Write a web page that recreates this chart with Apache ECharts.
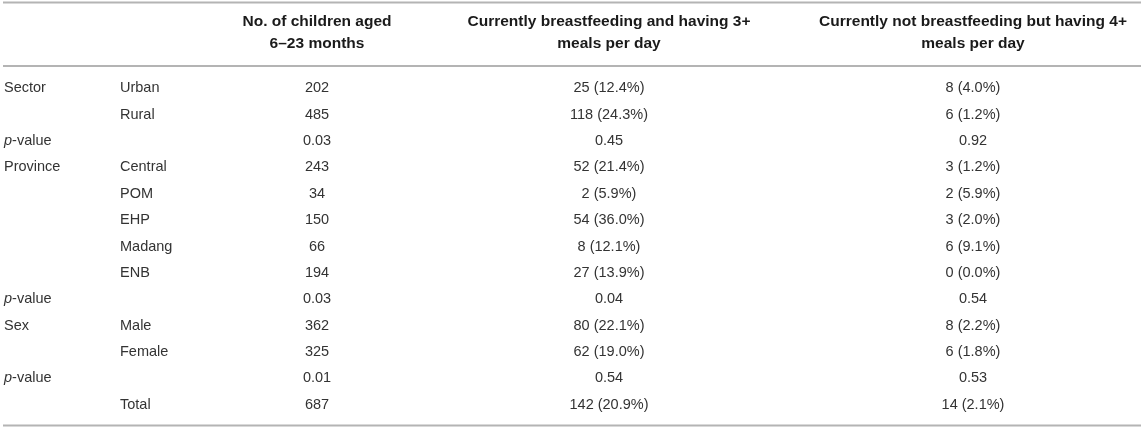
<!DOCTYPE html>
<html lang="en">
<head>
    <meta charset="UTF-8">
    <title>Meal frequency table</title>
    <script src="https://cdn.jsdelivr.net/npm/echarts@6/dist/echarts.min.js"></script>
    <style>
        html, body { margin: 0; padding: 0; background: #fff; }
        #main { width: 1143px; height: 428px; }
    </style>
</head>
<body>
<div id="main"></div>
<script type="text/javascript">
    // table data, one entry per row (top to bottom)
    var groups = ['Sector', '', 'p-value', 'Province', '', '', '', '', 'p-value', 'Sex', '', 'p-value', ''];
    var subgroups = ['Urban', 'Rural', '', 'Central', 'POM', 'EHP', 'Madang', 'ENB', '', 'Male', 'Female', '', 'Total'];
    var nChildren = [202, 485, null, 243, 34, 150, 66, 194, null, 362, 325, null, 687];
    var bfCount = [25, 118, null, 52, 2, 54, 8, 27, null, 80, 62, null, 142];
    var bfPct = [12.4, 24.3, null, 21.4, 5.9, 36.0, 12.1, 13.9, null, 22.1, 19.0, null, 20.9];
    var nbfCount = [8, 6, null, 3, 2, 3, 6, 0, null, 8, 6, null, 14];
    var nbfPct = [4.0, 1.2, null, 1.2, 5.9, 2.0, 9.1, 0.0, null, 2.2, 1.8, null, 2.1];
    // p-values for the three groups (Sector, Province, Sex)
    var pChildren = ['0.03', '0.03', '0.01'];
    var pBf = ['0.45', '0.04', '0.54'];
    var pNbf = ['0.92', '0.54', '0.53'];
    var headers = ['', '', 'No. of children aged\n6\u201323 months',
        'Currently breastfeeding and having 3+\nmeals per day',
        'Currently not breastfeeding but having 4+\nmeals per day'];

    // layout: x anchor and alignment of each column
    var colX = [4, 120, 317, 609, 973];
    var colAlign = ['left', 'left', 'center', 'center', 'center'];
    var FONT = 'Liberation Sans, Arial, Helvetica, sans-serif';
    var BODY_SIZE = 14.5;

    var rowIdx = groups.map(function (g, i) { return String(i); });

    // build cell texts from the arrays above
    function cellTexts() {
        var out = [];
        var p = 0;
        for (var i = 0; i < groups.length; i++) {
            var isP = groups[i] === 'p-value';
            var row = [
                isP ? '{i|p}-value' : groups[i],
                subgroups[i],
                isP ? pChildren[p] : String(nChildren[i]),
                isP ? pBf[p] : bfCount[i] + ' (' + bfPct[i].toFixed(1) + '%)',
                isP ? pNbf[p] : nbfCount[i] + ' (' + nbfPct[i].toFixed(1) + '%)'
            ];
            if (isP) p++;
            out.push(row);
        }
        return out;
    }
    var cells = cellTexts();

    var data = [];
    cells.forEach(function (row, r) {
        row.forEach(function (txt, c) {
            if (txt !== '') data.push([c, r, txt]);
        });
    });

    var myChart = echarts.init(document.getElementById('main'));
    var option = {
        backgroundColor: '#fff',
        animation: false,
        grid: { left: 0, right: 0, top: 75, bottom: 10 },
        xAxis: { type: 'value', min: 0, max: 1143, show: false },
        yAxis: { type: 'category', data: rowIdx, inverse: true, show: false },
        graphic: [
            { type: 'line', shape: { x1: 3, y1: 2.5, x2: 1141, y2: 2.5 }, style: { stroke: '#b4b4b4', lineWidth: 2 } },
            { type: 'line', shape: { x1: 3, y1: 66, x2: 1141, y2: 66 }, style: { stroke: '#b4b4b4', lineWidth: 2 } },
            { type: 'line', shape: { x1: 3, y1: 425.5, x2: 1141, y2: 425.5 }, style: { stroke: '#b4b4b4', lineWidth: 2 } }
        ].concat(headers.map(function (h, c) {
            return {
                type: 'text',
                x: colX[c], y: 33,
                style: {
                    text: h, fill: '#1a1a1a', font: 'bold 15.5px ' + FONT,
                    align: 'center', verticalAlign: 'middle', lineHeight: 22
                }
            };
        })),
        series: [{
            type: 'custom',
            coordinateSystem: 'cartesian2d',
            data: data,
            renderItem: function (params, api) {
                var c = api.value(0);
                var r = api.value(1);
                var pt = api.coord([0, r]);
                return {
                    type: 'text',
                    x: colX[c],
                    y: pt[1],
                    style: {
                        text: cells[r][c],
                        fill: '#333',
                        font: BODY_SIZE + 'px ' + FONT,
                        align: colAlign[c],
                        verticalAlign: 'middle',
                        rich: { i: { fontStyle: 'italic', fontSize: BODY_SIZE, fontFamily: FONT, fill: '#333' } }
                    }
                };
            }
        }]
    };
    myChart.setOption(option);
</script>
</body>
</html>
